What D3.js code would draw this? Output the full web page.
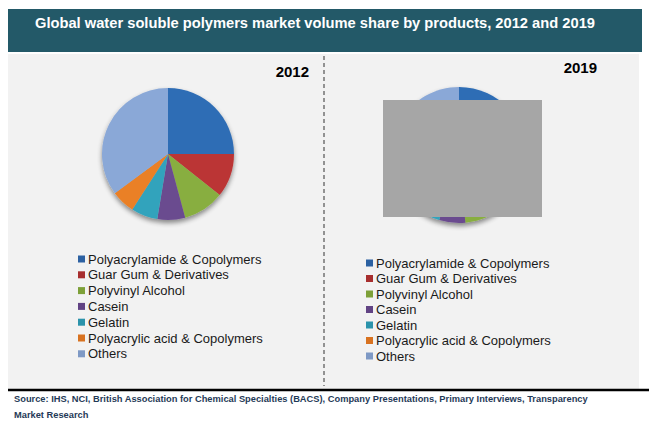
<!DOCTYPE html>
<html>
<head>
<meta charset="utf-8">
<script src="https://cdn.jsdelivr.net/npm/d3@7.9.0/dist/d3.min.js"></script>
<style>
  body { margin: 0; background: #fff; }
  svg { display: block; font-family: "Liberation Sans", Arial, sans-serif; }
</style>
</head>
<body>
<svg width="649" height="425"></svg>
<script>
// data
const categories = ['Polyacrylamide & Copolymers', 'Guar Gum & Derivatives', 'Polyvinyl Alcohol',
  'Casein', 'Gelatin', 'Polyacrylic acid & Copolymers', 'Others'];
const share2012 = [25.0, 10.7, 10.1, 6.8, 6.5, 5.8, 35.1];
const share2019 = [27.0, 11.0, 10.5, 6.2, 6.3, 5.8, 33.2];
const years = ['2012', '2019'];

const topColors = ['#2f6db5', '#bb3636', '#88ae40', '#6b4b8f', '#33a3bc', '#ea8026', '#8aa8d7'];
const botColors = ['#284f86', '#8a2222', '#6c8b2d', '#523873', '#207a91', '#bd5e18', '#6c82aa'];

const svg = d3.select('svg');
const defs = svg.append('defs');

// soft shadow under pies
const f = defs.append('filter').attr('id', 'shadow')
  .attr('x', '-20%').attr('y', '-20%').attr('width', '140%').attr('height', '150%');
f.append('feGaussianBlur').attr('in', 'SourceAlpha').attr('stdDeviation', 2.5);
f.append('feOffset').attr('dy', 3).attr('result', 'b');
f.append('feComponentTransfer').append('feFuncA').attr('type', 'linear').attr('slope', 0.45);
const m = f.append('feMerge');
m.append('feMergeNode');
m.append('feMergeNode').attr('in', 'SourceGraphic');

// header band
svg.append('rect').attr('x', 8).attr('y', 9).attr('width', 634).attr('height', 43).attr('fill', '#235968');
svg.append('text').attr('x', 35).attr('y', 28)
  .attr('fill', '#fff').attr('font-weight', 'bold').attr('font-size', 14.7)
  .text('Global water soluble polymers market volume share by products, 2012 and 2019');

// panel
svg.append('rect').attr('x', 8).attr('y', 54).attr('width', 631).attr('height', 335).attr('fill', '#f2f2f2');
svg.append('line').attr('x1', 8).attr('x2', 649).attr('y1', 390).attr('y2', 390)
  .attr('stroke', '#000').attr('stroke-width', 2.5);
svg.append('line').attr('x1', 324).attr('x2', 324).attr('y1', 56).attr('y2', 386)
  .attr('stroke', '#333').attr('stroke-width', 1).attr('stroke-dasharray', '4,3');

// source
const src = svg.append('text').attr('font-size', 9.3).attr('font-weight', 'bold').attr('fill', '#1f3a57');
src.append('tspan').attr('x', 14).attr('y', 402)
  .text('Source: IHS, NCI, British Association for Chemical Specialties (BACS), Company Presentations, Primary Interviews, Transparency');
src.append('tspan').attr('x', 14).attr('y', 418).text('Market Research');

const pies = [
  { year: years[0], values: share2012, cx: 168, cy: 154, r: 66, lx: 309, ly: 77, legX: 78, legY: 259, step: 15.8 },
  { year: years[1], values: share2019, cx: 459, cy: 155, r: 68, lx: 597, ly: 73, legX: 366, legY: 263, step: 15.5 }
];

const pie = d3.pie().sort(null).value(d => d);

pies.forEach((p, pi) => {
  categories.forEach((c, i) => {
    const g = defs.append('linearGradient').attr('id', `g${pi}_${i}`)
      .attr('gradientUnits', 'userSpaceOnUse')
      .attr('x1', 0).attr('x2', 0).attr('y1', p.cy - p.r).attr('y2', p.cy + p.r);
    g.append('stop').attr('offset', 0).attr('stop-color', topColors[i]);
    g.append('stop').attr('offset', 1).attr('stop-color', botColors[i]);
  });
  const arc = d3.arc().innerRadius(0).outerRadius(p.r);
  const g = svg.append('g').attr('transform', `translate(${p.cx},${p.cy})`).attr('filter', 'url(#shadow)');
  g.selectAll('path').data(pie(p.values)).join('path')
    .attr('d', arc)
    .attr('fill', (d, i) => `url(#g${pi}_${i})`);

  svg.append('text').attr('x', p.lx).attr('y', p.ly).attr('text-anchor', 'end')
    .attr('font-weight', 'bold').attr('font-size', 15).attr('fill', '#000').text(p.year);

  const leg = svg.append('g');
  categories.forEach((c, i) => {
    const y = p.legY + i * p.step;
    leg.append('rect').attr('x', p.legX).attr('y', y - 3.5).attr('width', 7).attr('height', 7)
      .attr('fill', d3.interpolateRgb(topColors[i], botColors[i])(0.4));
    leg.append('text').attr('x', p.legX + 10).attr('y', y + 4.5)
      .attr('font-size', 13).attr('fill', '#1a1a1a').text(c);
  });
});

// grey block covering the 2019 pie
svg.append('rect').attr('x', 383).attr('y', 100).attr('width', 159).attr('height', 117).attr('fill', '#a6a6a6');
</script>
</body>
</html>
